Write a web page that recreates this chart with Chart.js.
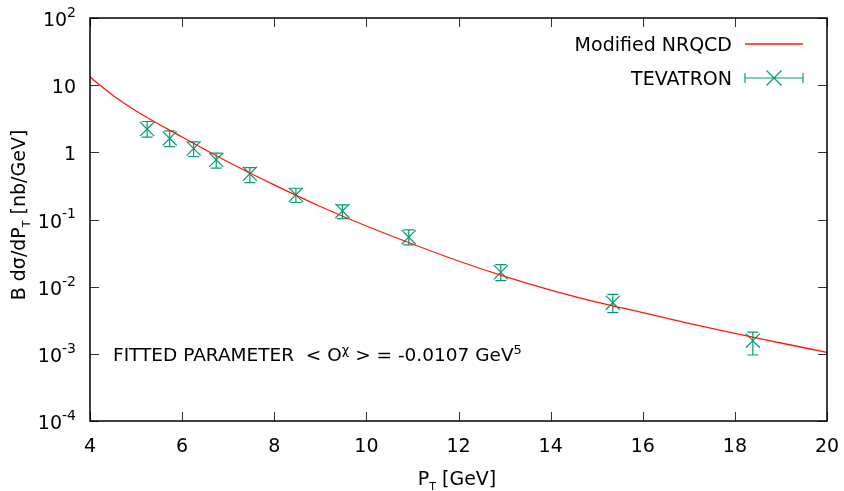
<!DOCTYPE html>
<html>
<head>
<meta charset="utf-8">
<script src="https://cdn.jsdelivr.net/npm/chart.js@4/dist/chart.umd.min.js"></script>
<style>
  html, body { margin: 0; padding: 0; background: #ffffff; }
  #wrap { width: 844px; height: 491px; }
</style>
</head>
<body>
<div id="wrap"><canvas id="plot" width="844" height="491"></canvas></div>
<script>
// Theory curve (Modified NRQCD), P_T in GeV and B dσ/dP_T in nb/GeV
const curvePt  = [4.0, 4.5, 5.0, 6.0, 7.0, 8.0, 9.0, 10.0, 11.0, 12.0, 13.0, 14.0, 15.0, 16.0, 17.0, 18.0, 19.0, 20.0];
const curveVal = [13.2, 7.0, 4.13, 1.69, 0.718, 0.327, 0.156, 0.080, 0.0432, 0.0241, 0.0142, 0.0089, 0.0059, 0.0041, 0.00283, 0.00201, 0.00145, 0.00105];

// TEVATRON measurements with lower / upper error bounds
const dataPt   = [5.24, 5.73, 6.25, 6.74, 7.47, 8.47, 9.48, 10.92, 12.92, 15.35, 18.39];
const dataVal  = [2.22, 1.61, 1.14, 0.773, 0.478, 0.233, 0.134, 0.0545, 0.0164, 0.00578, 0.00157];
const dataLow  = [1.69, 1.22, 0.867, 0.581, 0.355, 0.179, 0.103, 0.0418, 0.0123, 0.0041, 0.00096];
const dataHigh = [2.88, 2.09, 1.43, 0.973, 0.594, 0.292, 0.165, 0.070, 0.0213, 0.0077, 0.00211];

// Axis ticks
const xTickValues = [4, 6, 8, 10, 12, 14, 16, 18, 20];
const yTickValues = [1e-4, 1e-3, 1e-2, 1e-1, 1, 10, 100];
const yTickLabels = [['10', '-4'], ['10', '-3'], ['10', '-2'], ['10', '-1'], ['1', ''], ['10', ''], ['10', '2']];

const FONT = '"DejaVu Sans", sans-serif';
const RED = '#ff1a0a';
const GREEN = '#009e73';

// text made of pieces: [text, kind] with kind 'n' (normal), 'sub' or 'sup'
function drawRich(ctx, parts, x, y, size, align, supRaise) {
  const supSize = Math.round(size * 0.72);
  const subSize = Math.round(size * 0.58);
  const fontFor = k => (k === 'n' ? size : k === 'sup' ? supSize : subSize) + 'px ' + FONT;
  let total = 0;
  const widths = parts.map(([t, k]) => {
    ctx.font = fontFor(k);
    const w = ctx.measureText(t).width;
    total += w;
    return w;
  });
  let cx = align === 'right' ? x - total : align === 'center' ? x - total / 2 : x;
  parts.forEach(([t, k], i) => {
    ctx.font = fontFor(k);
    const dy = k === 'sup' ? -size * (supRaise || 0.45) : k === 'sub' ? size * 0.27 : 0;
    ctx.fillText(t, cx, y + dy);
    cx += widths[i];
  });
  return total;
}

const framePlugin = {
  id: 'frame',
  beforeDatasetsDraw(chart) {
    // vertical error bars with caps
    const ctx = chart.ctx, xs = chart.scales.x, ys = chart.scales.y;
    ctx.save();
    ctx.strokeStyle = GREEN;
    ctx.lineWidth = 1.2;
    dataPt.forEach((p, i) => {
      const px = xs.getPixelForValue(p);
      const yl = ys.getPixelForValue(dataLow[i]);
      const yh = ys.getPixelForValue(dataHigh[i]);
      ctx.beginPath();
      ctx.moveTo(px, yl); ctx.lineTo(px, yh);
      ctx.moveTo(px - 5.5, yl); ctx.lineTo(px + 5.5, yl);
      ctx.moveTo(px - 5.5, yh); ctx.lineTo(px + 5.5, yh);
      ctx.stroke();
    });
    ctx.restore();
  },
  afterDraw(chart) {
    const ctx = chart.ctx, xs = chart.scales.x, ys = chart.scales.y;
    const a = chart.chartArea;
    ctx.save();
    // inward tick marks on all four sides
    ctx.strokeStyle = '#333';
    ctx.lineWidth = 1;
    const tl = 9;
    ctx.beginPath();
    xTickValues.forEach(v => {
      const px = Math.round(xs.getPixelForValue(v)) + 0.5;
      ctx.moveTo(px, a.bottom); ctx.lineTo(px, a.bottom - tl);
      ctx.moveTo(px, a.top); ctx.lineTo(px, a.top + tl);
    });
    yTickValues.forEach(v => {
      const py = Math.round(ys.getPixelForValue(v)) + 0.5;
      ctx.moveTo(a.left, py); ctx.lineTo(a.left + tl, py);
      ctx.moveTo(a.right, py); ctx.lineTo(a.right - tl, py);
    });
    ctx.stroke();
    // border
    ctx.strokeStyle = '#000';
    ctx.lineWidth = 1.5;
    ctx.strokeRect(a.left, a.top, a.right - a.left, a.bottom - a.top);

    ctx.fillStyle = '#000';
    ctx.textBaseline = 'alphabetic';
    // x tick labels
    ctx.font = '19px ' + FONT;
    ctx.textAlign = 'center';
    xTickValues.forEach(v => {
      ctx.fillText(String(v), xs.getPixelForValue(v), 452);
    });
    // y tick labels with exponents
    ctx.textAlign = 'left';
    yTickValues.forEach((v, i) => {
      const [base, exp] = yTickLabels[i];
      const py = ys.getPixelForValue(v) + 8;
      const parts = exp ? [[base, 'n'], [exp, 'sup']] : [[base, 'n']];
      drawRich(ctx, parts, 76, py, 19, 'right', 0.48);
    });
    // axis titles
    drawRich(ctx, [['P', 'n'], ['T', 'sub'], [' [GeV]', 'n']], 457, 485, 19, 'center');
    ctx.save();
    ctx.translate(25, 215);
    ctx.rotate(-Math.PI / 2);
    drawRich(ctx, [['B dσ/dP', 'n'], ['T', 'sub'], [' [nb/GeV]', 'n']], 0, 0, 19, 'center');
    ctx.restore();
    // fit annotation
    drawRich(ctx, [['FITTED PARAMETER  < O', 'n'], ['χ', 'sup'], [' > = -0.0107 GeV', 'n'], ['5', 'sup']], 113, 360.5, 18.5, 'left', 0.36);

    // key
    const ds = chart.data.datasets;
    ctx.font = '19px ' + FONT;
    ctx.textAlign = 'right';
    ctx.fillText(ds[0].label, 732, 51);
    ctx.fillText(ds[1].label, 732, 85);
    ctx.strokeStyle = RED;
    ctx.lineWidth = 1.3;
    ctx.beginPath(); ctx.moveTo(745, 44); ctx.lineTo(803, 44); ctx.stroke();
    ctx.strokeStyle = GREEN;
    ctx.lineWidth = 1.2;
    ctx.beginPath();
    ctx.moveTo(745, 78); ctx.lineTo(803, 78);
    ctx.moveTo(745, 73); ctx.lineTo(745, 83);
    ctx.moveTo(803, 73); ctx.lineTo(803, 83);
    ctx.moveTo(766.5, 70.5); ctx.lineTo(781.5, 85.5);
    ctx.moveTo(781.5, 70.5); ctx.lineTo(766.5, 85.5);
    ctx.stroke();
    ctx.restore();
  }
};

new Chart(document.getElementById('plot'), {
  type: 'line',
  data: {
    datasets: [
      {
        label: 'Modified NRQCD',
        data: curvePt.map((p, i) => ({ x: p, y: curveVal[i] })),
        borderColor: RED,
        borderWidth: 1.3,
        pointRadius: 0,
        cubicInterpolationMode: 'monotone',
        fill: false
      },
      {
        label: 'TEVATRON',
        data: dataPt.map((p, i) => ({ x: p, y: dataVal[i] })),
        showLine: false,
        borderColor: GREEN,
        backgroundColor: GREEN,
        pointStyle: 'crossRot',
        pointRadius: 10,
        pointBorderWidth: 1.2
      }
    ]
  },
  options: {
    responsive: false,
    animation: false,
    devicePixelRatio: 1,
    layout: { padding: { top: 18, right: 17, left: 0, bottom: 0 } },
    plugins: { legend: { display: false }, tooltip: { enabled: false } },
    scales: {
      x: {
        type: 'linear', min: 4, max: 20,
        ticks: { display: false, stepSize: 2 },
        grid: { display: false }, border: { display: false },
        afterFit(s) { s.height = 70; }
      },
      y: {
        type: 'logarithmic', min: 1e-4, max: 100,
        ticks: { display: false },
        grid: { display: false }, border: { display: false },
        afterFit(s) { s.width = 90; }
      }
    }
  },
  plugins: [framePlugin]
});
</script>
</body>
</html>
